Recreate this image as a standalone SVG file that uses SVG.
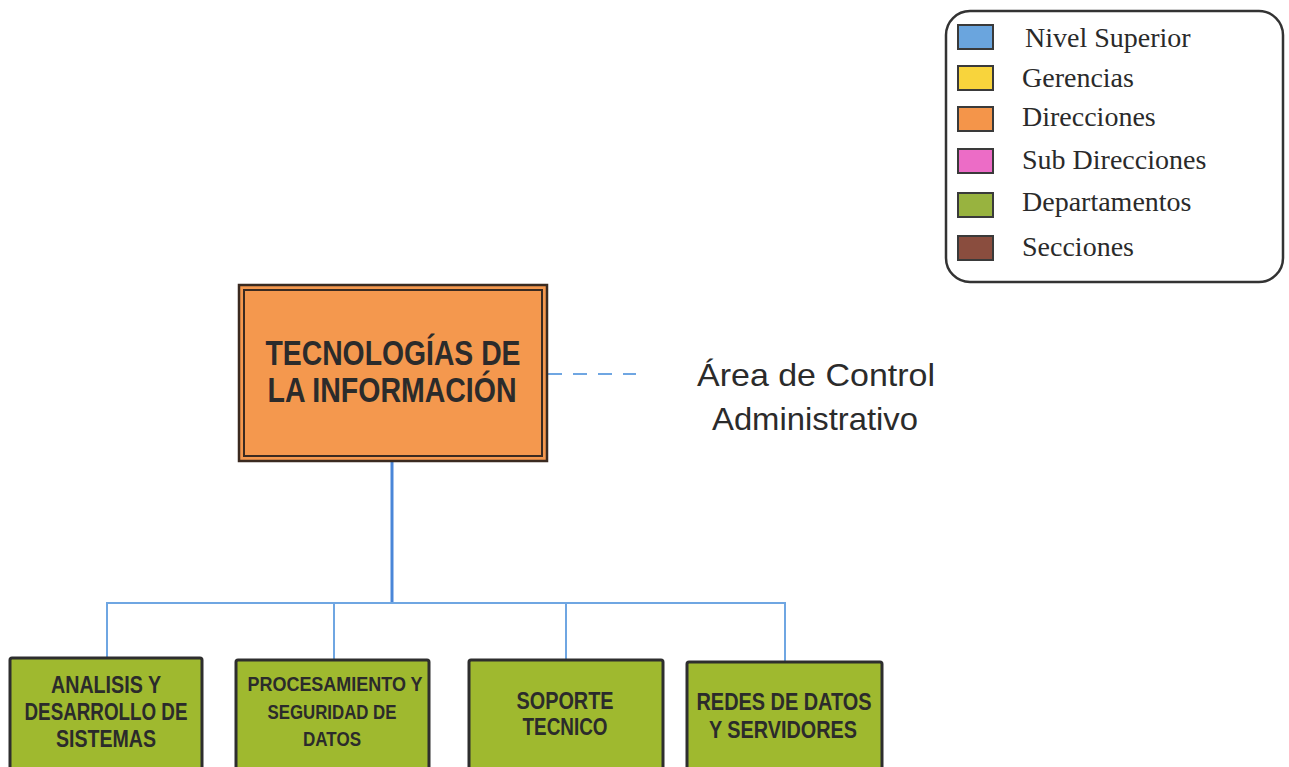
<svg xmlns="http://www.w3.org/2000/svg" width="1289" height="767" viewBox="0 0 1289 767">
<style>
.lg{font-family:"Liberation Serif",serif;font-size:28px;fill:#2a2a2a}
.sw{stroke:#3a3a3a;stroke-width:2}
.bx{font-family:"Liberation Sans",Arial,sans-serif;font-weight:bold;fill:#2b2b2b;text-anchor:middle}
.dep{fill:#9fb92f;stroke:#2e2e2e;stroke-width:3}
.ln{fill:none;stroke:#6fa6e2;stroke-width:2}
</style>
<rect width="1289" height="767" fill="#ffffff"/>
<g id="legend">
<rect x="946" y="11" width="337" height="271" rx="24" fill="#ffffff" stroke="#333333" stroke-width="2.5"/>
<rect class="sw" x="958" y="25" width="35" height="24" fill="#6aa5de"/>
<rect class="sw" x="958" y="66" width="35" height="24" fill="#f8d43c"/>
<rect class="sw" x="958" y="107" width="35" height="24" fill="#f4954a"/>
<rect class="sw" x="958" y="149" width="35" height="24" fill="#ec6cc6"/>
<rect class="sw" x="958" y="193" width="35" height="24" fill="#98b33f"/>
<rect class="sw" x="958" y="236" width="35" height="24" fill="#8a4d3e"/>
<text class="lg" x="1025" y="47">Nivel Superior</text>
<text class="lg" x="1022" y="87">Gerencias</text>
<text class="lg" x="1022" y="126">Direcciones</text>
<text class="lg" x="1022" y="169">Sub Direcciones</text>
<text class="lg" x="1022" y="211">Departamentos</text>
<text class="lg" x="1022" y="256">Secciones</text>
</g>
<g id="connectors">
<line x1="548" y1="374" x2="636" y2="374" stroke="#6fa6e2" stroke-width="2" stroke-dasharray="14,11"/>
<line x1="392" y1="462" x2="392" y2="603" stroke="#4a86d8" stroke-width="3"/>
<polyline class="ln" points="107,659 107,603 785,603 785,662"/>
<line class="ln" x1="334" y1="603" x2="334" y2="660"/>
<line class="ln" x1="566" y1="603" x2="566" y2="660"/>
</g>
<g id="ti">
<rect x="239" y="285" width="308" height="176" fill="#f4984e" stroke="#3a2a20" stroke-width="2.5"/>
<rect x="244" y="290" width="298" height="166" fill="none" stroke="#3a2a20" stroke-width="2"/>
<text class="bx" x="393" y="365" font-size="35" textLength="255" lengthAdjust="spacingAndGlyphs">TECNOLOGÍAS DE</text>
<text class="bx" x="392" y="402" font-size="35" textLength="249" lengthAdjust="spacingAndGlyphs">LA INFORMACIÓN</text>
</g>
<g id="area">
<text x="816" y="386" font-family="Liberation Sans,Arial,sans-serif" font-size="32" fill="#2b2b2b" text-anchor="middle" textLength="238" lengthAdjust="spacingAndGlyphs">Área de Control</text>
<text x="815" y="430" font-family="Liberation Sans,Arial,sans-serif" font-size="32" fill="#2b2b2b" text-anchor="middle" textLength="206" lengthAdjust="spacingAndGlyphs">Administrativo</text>
</g>
<g id="analisis">
<rect class="dep" x="10" y="658" width="192" height="120" rx="2"/>
<text class="bx" x="106" y="693" font-size="23" textLength="110" lengthAdjust="spacingAndGlyphs">ANALISIS Y</text>
<text class="bx" x="106" y="720" font-size="23" textLength="163" lengthAdjust="spacingAndGlyphs">DESARROLLO DE</text>
<text class="bx" x="106" y="747" font-size="23" textLength="100" lengthAdjust="spacingAndGlyphs">SISTEMAS</text>
</g>
<g id="procesamiento">
<rect class="dep" x="236" y="660" width="193" height="120" rx="2"/>
<text class="bx" x="335" y="691" font-size="20" textLength="175" lengthAdjust="spacingAndGlyphs">PROCESAMIENTO Y</text>
<text class="bx" x="332" y="719" font-size="20" textLength="129" lengthAdjust="spacingAndGlyphs">SEGURIDAD DE</text>
<text class="bx" x="332" y="746" font-size="20" textLength="58" lengthAdjust="spacingAndGlyphs">DATOS</text>
</g>
<g id="soporte">
<rect class="dep" x="469" y="660" width="194" height="120" rx="2"/>
<text class="bx" x="565" y="709" font-size="23" textLength="97" lengthAdjust="spacingAndGlyphs">SOPORTE</text>
<text class="bx" x="565" y="735" font-size="23" textLength="85" lengthAdjust="spacingAndGlyphs">TECNICO</text>
</g>
<g id="redes">
<rect class="dep" x="687" y="662" width="195" height="120" rx="2"/>
<text class="bx" x="784" y="710" font-size="23" textLength="175" lengthAdjust="spacingAndGlyphs">REDES DE DATOS</text>
<text class="bx" x="783" y="738" font-size="23" textLength="148" lengthAdjust="spacingAndGlyphs">Y SERVIDORES</text>
</g>
</svg>
